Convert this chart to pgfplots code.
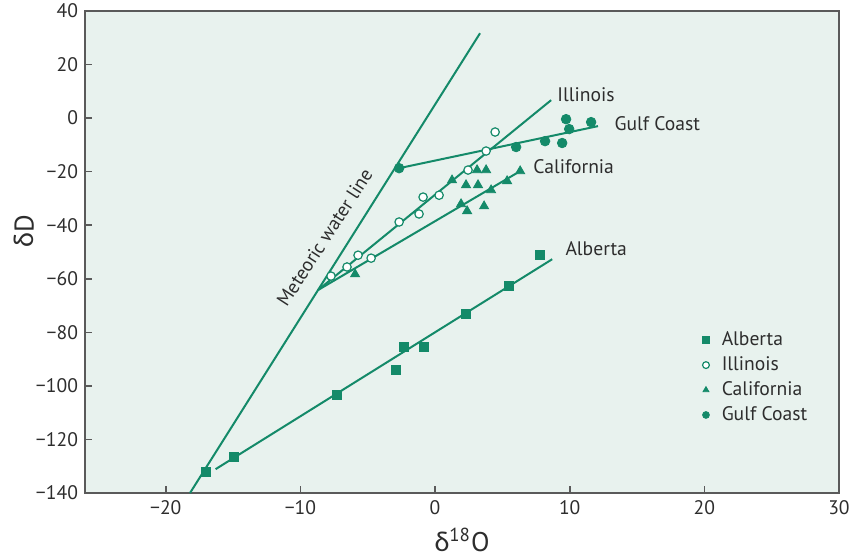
\documentclass[border=0pt]{standalone}
\usepackage{pgfplots}
\pgfplotsset{compat=1.18}
\usepackage{fontspec}
\setmainfont{PT Sans}
\newfontfamily\gk{Lato}
\definecolor{grn}{RGB}{20,138,105}
\definecolor{bg}{RGB}{232,242,238}
\definecolor{txt}{RGB}{45,45,45}
\definecolor{frame}{RGB}{90,90,90}
\begin{document}
\begin{tikzpicture}
\path[use as bounding box] (-42.5pt,-31pt) rectangle (383pt,246.5pt);
\begin{axis}[
 scale only axis, width=377pt, height=241pt,
 xmin=-26, xmax=30, ymin=-140, ymax=40,
 axis background/.style={fill=bg},
 axis line style={draw=frame, line width=1pt},
 xtick={-20,-10,0,10,20,30}, xticklabels={−20,−10,0,10,20,30},
 ytick={-140,-120,...,40}, yticklabels={−140,−120,−100,−80,−60,−40,−20,0,20,40},
 tick style={draw=frame, line width=0.8pt},
 major tick length=3.5pt,
 tick align=inside,
 xtick pos=bottom, ytick pos=left,
 tick label style={font=\fontsize{9.8}{11}\selectfont, text=txt},
 xlabel={{\gk δ}\textsuperscript{18}O}, ylabel={{\gk δ}D},
 label style={font=\fontsize{13.5}{15}\selectfont, text=txt},
 xlabel style={at={(axis description cs:0.5,-0.097)}, anchor=center, inner sep=0pt},
 ylabel style={at={(axis description cs:-0.081,0.544)}, anchor=center},
 legend style={at={(axis description cs:0.807,0.352)}, anchor=north west, draw=none, fill=none,
   font=\fontsize{9.8}{11}\selectfont, text=txt, row sep=0pt},
 legend cell align=left,
 legend image code/.code={\draw[#1,mark size=1.7pt] plot coordinates {(0.1cm,0cm)}; \path (0cm,0cm) (0.30cm,0cm);},
 clip=false,
]
% fitted lines
\addplot[grn, line width=1pt, forget plot] coordinates {(-18.2,-140) (3.34,31.7)};
\addplot[grn, line width=1pt, forget plot] coordinates {(-8.69,-64.2) (8.62,6.7)};
\addplot[grn, line width=1pt, forget plot] coordinates {(-8.69,-64.2) (6.32,-19.8)};
\addplot[grn, line width=1pt, forget plot] coordinates {(-2.67,-18.7) (12.1,-3.0)};
\addplot[grn, line width=1pt, forget plot] coordinates {(-16.3,-131.1) (8.7,-52.7)};
% data
\addplot[only marks, mark=square*, mark size=2.3pt, color=grn] coordinates {
 (-17.0,-132.2) (-14.93,-126.6) (-7.28,-103.4) (-2.9,-94.1) (-2.3,-85.5)
 (-0.82,-85.5) (2.3,-73.2) (5.5,-62.7) (7.8,-51.2)};
\addlegendentry{Alberta}
\addplot[only marks, mark=*, mark size=2.1pt, color=grn, mark options={fill=white, line width=0.6pt}] coordinates {
 (-7.73,-59.0) (-6.54,-55.6) (-5.72,-51.2) (-4.75,-52.3) (-2.67,-38.8) (-1.19,-35.8)
 (-0.89,-29.5) (0.30,-28.8) (2.45,-19.4) (3.79,-12.3) (4.46,-5.2)};
\addlegendentry{Illinois}
\addplot[only marks, mark=triangle*, mark size=2.6pt, color=grn] coordinates {
 (-5.94,-58.3) (1.26,-23.2) (1.93,-32.1) (2.38,-34.7) (2.30,-25.0) (3.19,-25.0)
 (3.12,-19.4) (3.79,-19.4) (3.64,-32.9) (4.16,-26.9) (5.35,-23.5) (6.32,-19.8)};
\addlegendentry{California}
\addplot[only marks, mark=*, mark size=2.4pt, color=grn] coordinates {
 (-2.67,-18.7) (6.02,-10.8) (8.17,-8.6) (9.44,-9.3) (9.73,-0.4) (9.96,-4.1) (11.59,-1.5)};
\addlegendentry{Gulf Coast}
% labels
\node[anchor=west, inner sep=0pt, font=\fontsize{9.8}{11}\selectfont, text=txt] at (axis cs:9.06,8.6) {Illinois};
\node[anchor=west, inner sep=0pt, font=\fontsize{9.8}{11}\selectfont, text=txt] at (axis cs:13.3,-1.9) {Gulf Coast};
\node[anchor=west, inner sep=0pt, font=\fontsize{9.8}{11}\selectfont, text=txt] at (axis cs:7.28,-18.3) {California};
\node[anchor=west, inner sep=0pt, font=\fontsize{9.8}{11}\selectfont, text=txt] at (axis cs:9.66,-48.9) {Alberta};
\node[rotate=57, inner sep=0pt, font=\fontsize{9.6}{11}\selectfont, text=txt] at (axis cs:-8.2,-44.6) {Meteoric water line};
\end{axis}
\end{tikzpicture}
\end{document}
